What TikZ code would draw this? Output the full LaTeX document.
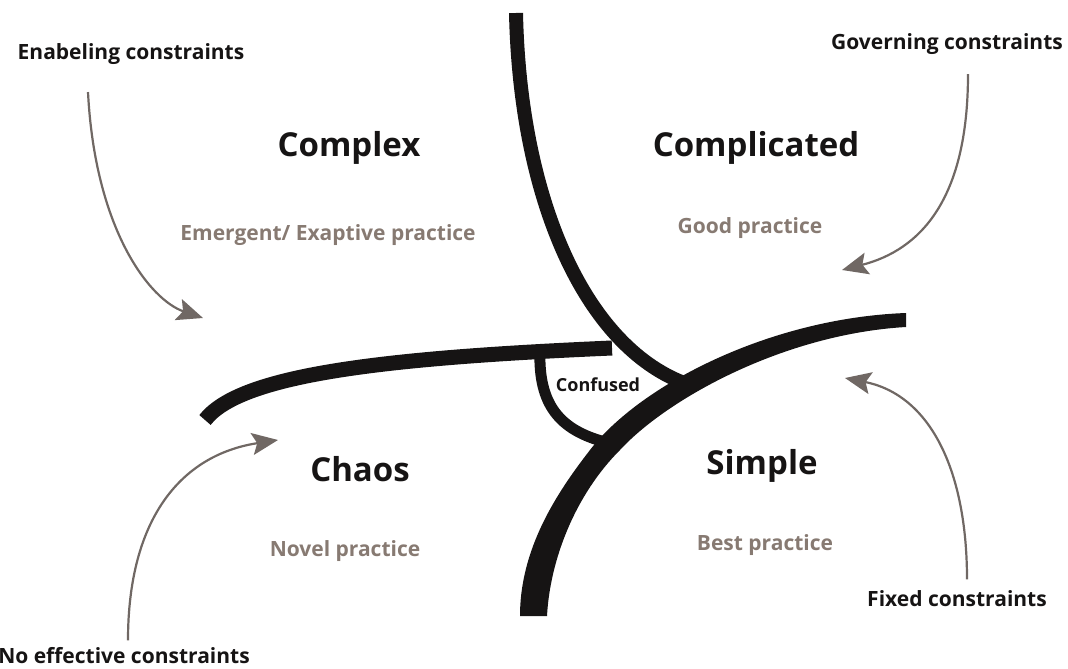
\documentclass[tikz,border=0pt]{standalone}
\usepackage{fontspec}
\setmainfont{Open Sans}
\usetikzlibrary{arrows.meta}
\definecolor{ink}{RGB}{22,20,20}
\definecolor{practicegrey}{RGB}{135,122,114}
\definecolor{arrowgrey}{RGB}{112,104,100}

\begin{document}
\begin{tikzpicture}[x=1pt, y=-1pt, line join=round,
	boundary/.style={ink, line width=14pt},
	regionname/.style={font=\fontsize{33}{38}\selectfont\bfseries, text=ink},
	practice/.style={font=\fontsize{21}{24}\selectfont\bfseries, text=practicegrey},
	constraint/.style={font=\fontsize{21}{24}\selectfont\bfseries, text=ink},
	pointer/.style={arrowgrey, line width=2.2pt, -{Stealth[length=26pt, width=22pt, inset=5pt]}}]
	\useasboundingbox (0,0) rectangle (1068,669);
	% the four boundaries
	\draw[boundary] (516,13) .. controls (520,200) and (585,345) .. (684,383);
	\draw[boundary, line width=15pt] (205,420) .. controls (240,375) and (380,358) .. (612,348);
	\draw[boundary, line width=11pt] (540,350) .. controls (538,405) and (560,430) .. (605,442);
	% the simple boundary gets wider towards its foot
	\fill[ink] (906,313) .. controls (770,318) and (640,385) .. (590,450)
		.. controls (555,495) and (520,550) .. (520,616)
		-- (547,616) .. controls (550,560) and (575,495) .. (620,450)
		.. controls (668,398) and (785,334) .. (906,327) -- cycle;
	% domains
	\node[regionname] (complex) at (349,148) {Complex};
	\node[regionname] (complicated) at (756,148) {Complicated};
	\node[regionname] (chaos) at (360,469) {Chaos};
	\node[regionname] (simple) at (762,466) {Simple};
	\node[font=\fontsize{18}{21}\selectfont\bfseries, text=ink] (confused) at (598,385) {Confused};
	\node[practice] (emergent) at (328,235) {Emergent/ Exaptive practice};
	\node[practice] (good) at (750,228) {Good practice};
	\node[practice] (novel) at (345,551) {Novel practice};
	\node[practice] (best) at (765,545) {Best practice};
	% constraints
	\node[constraint] (enabling) at (131,54) {Enabeling constraints};
	\node[constraint] (governing) at (947,44) {Governing constraints};
	\node[constraint] (noeffect) at (124,656) {No effective constraints};
	\node[constraint] (fixed) at (957,599) {Fixed constraints};
	\coordinate (enabling-tip) at (203,318);
	\coordinate (governing-tip) at (842,270);
	\coordinate (noeffect-tip) at (278,440);
	\coordinate (fixed-tip) at (845,378);
	\draw[pointer] (enabling.south -| 88,0) ++(0,24) .. controls (95,230) and (150,300) .. (enabling-tip);
	\draw[pointer] (governing.south -| 968,0) ++(0,16) .. controls (968,200) and (920,250) .. (governing-tip);
	\draw[pointer] (noeffect.north -| 128,0) ++(0,-4) .. controls (128,520) and (180,455) .. (noeffect-tip);
	\draw[pointer] (fixed.north -| 967,0) ++(0,-8) .. controls (967,470) and (930,395) .. (fixed-tip);
\end{tikzpicture}
\end{document}
